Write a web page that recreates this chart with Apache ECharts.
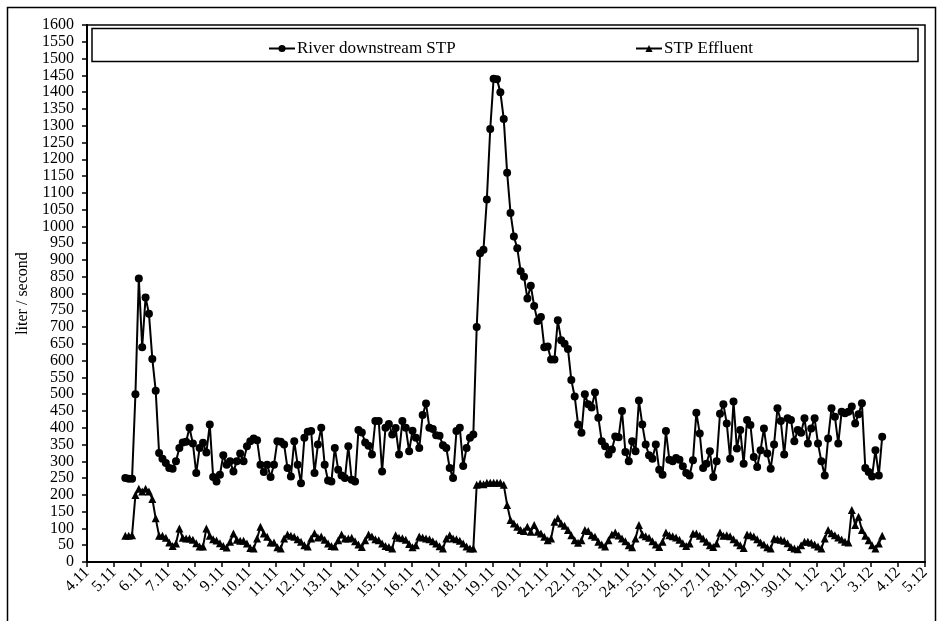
<!DOCTYPE html>
<html>
<head>
<meta charset="utf-8">
<script src="https://cdn.jsdelivr.net/npm/echarts@6/dist/echarts.min.js"></script>
<style>
  html, body { margin: 0; padding: 0; background: #fff; }
  #chart { width: 946px; height: 621px; }
</style>
</head>
<body>
<div id="chart"></div>
<script>
// x axis: days counted from 4.11 00:00
const xLabels = ['4.11', '5.11', '6.11', '7.11', '8.11', '9.11', '10.11', '11.11', '12.11',
  '13.11', '14.11', '15.11', '16.11', '17.11', '18.11', '19.11', '20.11', '21.11', '22.11',
  '23.11', '24.11', '25.11', '26.11', '27.11', '28.11', '29.11', '30.11', '1.12', '2.12',
  '3.12', '4.12', '5.12'];

// first sample 5.11 10:00, one sample every 3 hours
const startDay = 1 + 10 / 24;
const stepDays = 3 / 24;

const riverFlow = [
  250, 248, 248, 500, 845, 640, 788, 740, 605, 510,
  325, 308, 295, 280, 278, 300, 340, 356, 358, 400,
  353, 265, 340, 355, 326, 410, 253, 240, 260, 318,
  290, 300, 270, 300, 323, 300, 345, 360, 368, 363,
  290, 268, 290, 253, 290, 360, 358, 350, 280, 255,
  360, 290, 235, 370, 388, 390, 265, 350, 400, 290,
  243, 240, 340, 275, 258, 250, 345, 245, 240, 393,
  386, 356, 346, 320, 420, 420, 270, 400, 411, 380,
  399, 320, 420, 400, 330, 391, 370, 340, 438, 472,
  400, 396, 378, 376, 348, 340, 280, 250, 390, 400,
  286, 340, 370, 380, 700, 920, 930, 1080, 1290, 1440,
  1438, 1400, 1320, 1160, 1040, 970, 935, 866, 850, 785,
  823, 763, 718, 730, 640, 642, 603, 603, 720, 661,
  650, 635, 542, 493, 410, 385, 500, 470, 460, 505,
  430, 360, 345, 320, 335, 374, 372, 450, 328, 300,
  360, 330, 481, 410, 350, 318, 308, 350, 275, 260,
  390, 305, 300, 310, 305, 285, 265, 258, 303, 445,
  383, 280, 293, 330, 253, 300, 442, 470, 413, 308,
  478, 338, 393, 293, 423, 408, 313, 283, 333, 398,
  323, 278, 350, 458, 420, 320, 428, 423, 360, 393,
  385, 428, 353, 398, 428, 353, 300, 258, 368, 458,
  433, 353, 448, 443, 448, 463, 413, 440, 473, 280,
  268, 255, 333, 258, 373
];

const effluentFlow = [
  78, 78, 80, 200, 218, 210, 218, 210, 188, 130,
  78, 78, 72, 58, 48, 55, 100, 72, 70, 70,
  66, 56, 46, 46, 100, 78, 68, 64, 56, 48,
  43, 60, 85, 66, 63, 63, 55, 42, 40, 70,
  105, 85, 75, 58, 58, 44, 40, 70, 82, 78,
  75, 68, 60, 50, 46, 70, 86, 73, 76, 66,
  55, 48, 46, 65, 82, 70, 70, 72, 62, 52,
  45, 65, 82, 76, 68, 65, 55, 48, 45, 40,
  80, 72, 71, 66, 54, 44, 50, 76, 73, 70,
  68, 62, 55, 47, 40, 70, 80, 70, 68, 63,
  55, 46, 40, 40, 230, 234, 232, 236, 236, 236,
  236, 236, 230, 170, 125, 115, 105, 95, 92, 105,
  90, 110, 90, 85, 75, 65, 70, 120, 130, 115,
  108, 95, 80, 65, 57, 65, 95, 92, 80, 75,
  60, 52, 46, 65, 82, 88, 79, 70, 62, 50,
  44, 70, 110, 82, 77, 72, 62, 52, 45, 60,
  88, 80, 77, 73, 66, 56, 48, 55, 85, 85,
  78, 70, 60, 50, 45, 55, 88, 78, 80, 77,
  68, 58, 50, 42, 82, 80, 76, 68, 58, 52,
  44, 40, 70, 68, 66, 63, 56, 45, 40, 38,
  50, 60, 60, 57, 52, 46, 40, 70, 95, 86,
  80, 73, 67, 60, 58, 155, 110, 135, 95, 78,
  65, 50, 40, 55, 78
];

const toPoints = (arr) => arr.map((v, i) => [startDay + i * stepDays, v]);

const serif = '"Liberation Serif", "Times New Roman", serif';

const chart = echarts.init(document.getElementById('chart'));
chart.setOption({
  backgroundColor: '#fff',
  animation: false,
  textStyle: { fontFamily: serif, color: '#000' },
  grid: {
    left: 87, right: 21, top: 25, bottom: 59,
    show: true, borderColor: '#000', borderWidth: 1.5
  },
  legend: [
    {
      data: ['River downstream STP'],
      left: 263, top: 35,
      itemWidth: 26, itemHeight: 9, itemGap: 4,
      textStyle: { fontFamily: serif, fontSize: 17, color: '#000', padding: [0, 0, 0, -3] }
    },
    {
      data: ['STP Effluent'],
      left: 630, top: 35,
      itemWidth: 26, itemHeight: 9, itemGap: 4,
      textStyle: { fontFamily: serif, fontSize: 17, color: '#000', padding: [0, 0, 0, -3] }
    }
  ],
  graphic: [
    {
      type: 'rect', silent: true, z: 100,
      shape: { x: 7.5, y: 7.5, width: 928, height: 650 },
      style: { fill: null, stroke: '#000', lineWidth: 1.5 }
    },
    {
      type: 'rect', silent: true, z: 100,
      shape: { x: 92, y: 28.5, width: 826, height: 33 },
      style: { fill: null, stroke: '#000', lineWidth: 1.5 }
    }
  ],
  xAxis: {
    type: 'value',
    min: 0, max: 31, interval: 1,
    axisLine: { lineStyle: { color: '#000', width: 2 } },
    axisTick: { inside: false, length: 5, lineStyle: { color: '#000', width: 1.5 } },
    splitLine: { show: false },
    axisLabel: {
      rotate: 45, margin: 8, fontSize: 16, fontFamily: serif, color: '#000',
      showMinLabel: true, showMaxLabel: true,
      formatter: (v) => xLabels[v] || ''
    }
  },
  yAxis: {
    type: 'value',
    min: 0, max: 1600, interval: 50,
    name: 'liter / second',
    nameLocation: 'middle',
    nameGap: 56,
    nameTextStyle: { fontFamily: serif, fontSize: 16, color: '#000' },
    axisLine: { show: true, lineStyle: { color: '#000', width: 2 } },
    axisTick: { show: true, inside: false, length: 5, lineStyle: { color: '#000', width: 1.5 } },
    splitLine: { show: false },
    axisLabel: {
      margin: 13, fontSize: 16, lineHeight: 14, fontFamily: serif, color: '#000',
      showMinLabel: true, showMaxLabel: true,
      formatter: (v) => String(v)
    }
  },
  series: [
    {
      name: 'River downstream STP',
      type: 'line',
      data: toPoints(riverFlow),
      symbol: 'circle',
      symbolSize: 8,
      lineStyle: { color: '#000', width: 2 },
      itemStyle: { color: '#000' }
    },
    {
      name: 'STP Effluent',
      type: 'line',
      data: toPoints(effluentFlow),
      symbol: 'triangle',
      symbolSize: 8,
      lineStyle: { color: '#000', width: 2 },
      itemStyle: { color: '#000' }
    }
  ]
});
</script>
</body>
</html>
